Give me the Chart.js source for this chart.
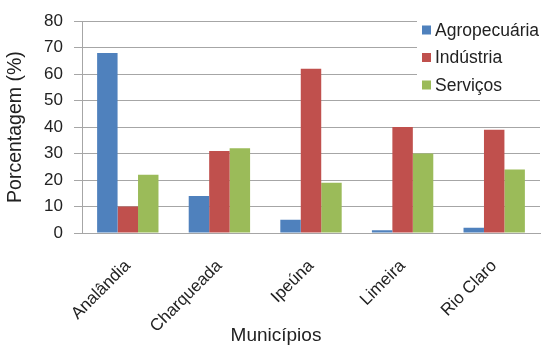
<!DOCTYPE html>
<html>
<head>
<meta charset="utf-8">
<script src="https://cdn.jsdelivr.net/npm/chart.js@4/dist/chart.umd.min.js"></script>
<style>
  html, body { margin: 0; padding: 0; background: #fff; }
  #wrap { width: 543px; height: 346px; position: relative; }
</style>
</head>
<body>
<div id="wrap"><canvas id="c" width="543" height="346"></canvas></div>
<script>
const municipios = ['Analândia', 'Charqueada', 'Ipeúna', 'Limeira', 'Rio Claro'];
const agropecuaria = [68, 14, 5, 1, 2];
const industria = [10, 31, 62, 40, 39];
const servicos = [22, 32, 19, 30, 24];
const yTicks = [0, 10, 20, 30, 40, 50, 60, 70, 80];

const FONT = 'Liberation Sans, Arial, sans-serif';
const TEXT = '#222';
const GRID = '#a6a6a6';

// Boxed legend in the upper right corner of the plot
const cornerLegend = {
  id: 'cornerLegend',
  afterDatasetsDraw(chart) {
    const ctx = chart.ctx;
    const area = chart.chartArea;
    ctx.save();
    ctx.fillStyle = '#fff';
    ctx.fillRect(417, area.top - 3, chart.width - 417, 95 - area.top + 3);
    ctx.font = '17.5px ' + FONT;
    ctx.textBaseline = 'middle';
    ctx.textAlign = 'left';
    chart.data.datasets.forEach((ds, i) => {
      const cy = 30 + i * 27.5;
      ctx.fillStyle = ds.backgroundColor;
      ctx.fillRect(422, cy - 4.5, 9, 9);
      ctx.fillStyle = TEXT;
      ctx.fillText(ds.label, 435, cy + 1);
    });
    ctx.restore();
  }
};

// Horizontal axis title, centred under the whole figure
const xTitle = {
  id: 'xTitle',
  afterDraw(chart) {
    const ctx = chart.ctx;
    ctx.save();
    ctx.font = '19px ' + FONT;
    ctx.fillStyle = TEXT;
    ctx.textAlign = 'center';
    ctx.textBaseline = 'alphabetic';
    ctx.fillText('Municípios', 276, 341);
    ctx.restore();
  }
};

new Chart(document.getElementById('c'), {
  type: 'bar',
  data: {
    labels: municipios,
    datasets: [
      { label: 'Agropecuária', data: agropecuaria, backgroundColor: '#4f81bd' },
      { label: 'Indústria', data: industria, backgroundColor: '#c0504d' },
      { label: 'Serviços', data: servicos, backgroundColor: '#9bbb59' }
    ]
  },
  options: {
    responsive: false,
    animation: false,
    devicePixelRatio: 1,
    categoryPercentage: 0.67,
    barPercentage: 1.0,
    layout: { padding: { top: 17, right: 3, left: 0, bottom: 0 } },
    plugins: {
      legend: { display: false },
      tooltip: { enabled: false }
    },
    scales: {
      x: {
        grid: { display: false, drawTicks: true, tickLength: 6 },
        border: { display: true, color: GRID, width: 1 },
        ticks: {
          color: TEXT,
          font: { family: FONT, size: 17 },
          minRotation: 45,
          maxRotation: 45,
          padding: 17,
          autoSkip: false
        },
        afterFit(scale) { scale.height = 113; }
      },
      y: {
        min: 0,
        max: 80,
        afterBuildTicks(scale) { scale.ticks = yTicks.map(v => ({ value: v })); },
        grid: { color: GRID, lineWidth: 1, tickLength: 8 },
        border: { display: true, color: GRID, width: 1 },
        ticks: {
          color: TEXT,
          font: { family: FONT, size: 17 },
          padding: 11
        },
        title: {
          display: true,
          text: 'Porcentagem (%)',
          color: TEXT,
          font: { family: FONT, size: 19.5 },
          padding: { top: 4, bottom: 0 }
        },
        afterFit(scale) { scale.width = 82; }
      }
    }
  },
  plugins: [cornerLegend, xTitle]
});
</script>
</body>
</html>
